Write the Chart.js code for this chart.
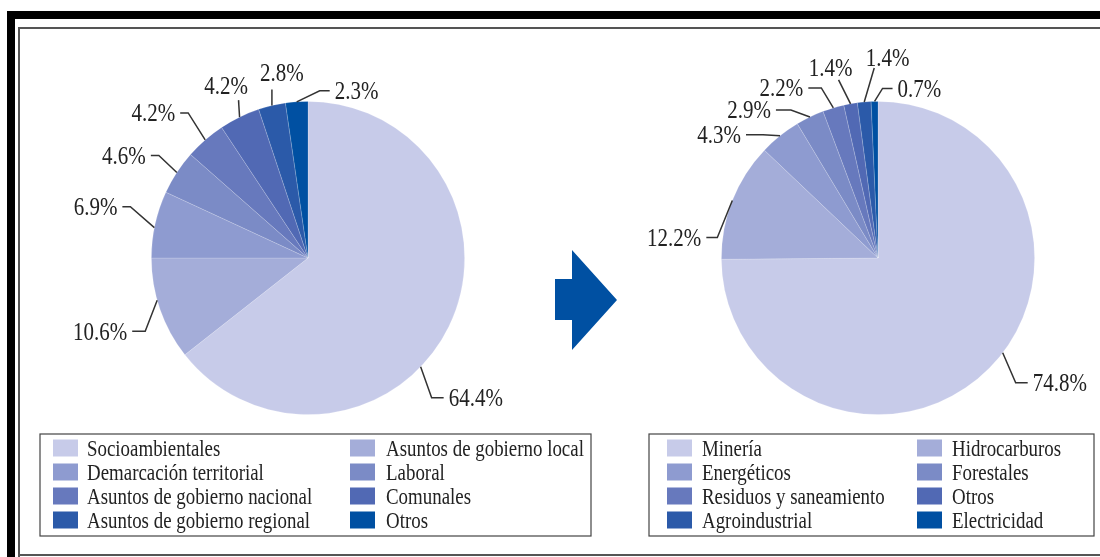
<!DOCTYPE html>
<html>
<head>
<meta charset="utf-8">
<title>Conflictos sociales por tipo</title>
<script src="https://cdn.jsdelivr.net/npm/chart.js@4/dist/chart.umd.min.js"></script>
<style>
  body { margin: 0; background: #fff; overflow: hidden; }
  #page { position: relative; width: 1100px; height: 557px; }
  canvas { position: absolute; left: 0; top: 0; }
  .bar { position: absolute; background: #000; }
  .rule { position: absolute; background: #555; }
  #arrow { position: absolute; left: 0; top: 0; }
</style>
</head>
<body>
<div id="page">
  <div class="bar" style="left:7px;top:11px;width:1093px;height:8px"></div>
  <div class="bar" style="left:7px;top:11px;width:8px;height:546px"></div>
  <div class="rule" style="left:18px;top:27px;width:1082px;height:1.5px"></div>
  <div class="rule" style="left:18px;top:27px;width:1.5px;height:530px"></div>
  <div class="rule" style="left:18px;top:554px;width:1082px;height:1.5px"></div>
  <svg id="arrow" width="1100" height="557">
    <polygon points="555,279 572,279 572,250 617,300 572,350 572,320 555,320" fill="#0050a2"/>
  </svg>
  <canvas id="leftPie" width="1100" height="557"></canvas>
  <canvas id="rightPie" width="1100" height="557"></canvas>
</div>
<script>
// conflict types (left) and socio-environmental breakdown (right), in %
const leftLabels = ["Socioambientales", "Asuntos de gobierno local", "Demarcación territorial", "Laboral",
  "Asuntos de gobierno nacional", "Comunales", "Asuntos de gobierno regional", "Otros"];
const leftValues = [64.4, 10.6, 6.9, 4.6, 4.2, 4.2, 2.8, 2.3];

const rightLabels = ["Minería", "Hidrocarburos", "Energéticos", "Forestales",
  "Residuos y saneamiento", "Otros", "Agroindustrial", "Electricidad"];
const rightValues = [74.8, 12.2, 4.3, 2.9, 2.2, 1.4, 1.4, 0.7];

const sliceColors = ["#c7cbe9", "#a4add9", "#8e9bd0", "#7b8bc6", "#6779bd", "#5169b4", "#2b5aa9", "#0050a2"];

const FONT = "Liberation Serif, Times New Roman, serif";
const SQUEEZE = 0.84; // condensed look for all text

function drawText(ctx, text, x, y, align, size) {
  ctx.save();
  ctx.font = size + "px " + FONT;
  ctx.textAlign = align;
  ctx.textBaseline = "alphabetic";
  ctx.translate(x, y);
  ctx.scale(SQUEEZE, 1);
  ctx.fillText(text, 0, 0);
  ctx.restore();
}

// percent labels with elbow leader lines
const leaderLabels = {
  id: "leaderLabels",
  afterDatasetsDraw(chart, args, opts) {
    const ctx = chart.ctx;
    const meta = chart.getDatasetMeta(0);
    const values = chart.data.datasets[0].data;
    ctx.save();
    ctx.strokeStyle = "#333";
    ctx.lineWidth = 1.5;
    ctx.fillStyle = "#222";
    meta.data.forEach((arc, i) => {
      const l = opts.layout[i];
      const p = arc.getProps(["x", "y", "startAngle", "endAngle", "outerRadius"], true);
      const a = p.startAngle + (l.f ?? 0.5) * (p.endAngle - p.startAngle);
      const sx = p.x + p.outerRadius * Math.cos(a);
      const sy = p.y + p.outerRadius * Math.sin(a);
      const exx = sx + l.ex, eyy = sy + l.ey;
      const text = values[i].toFixed(1) + "%";
      ctx.beginPath();
      ctx.moveTo(sx, sy);
      ctx.lineTo(exx, eyy);
      if (l.up === undefined) {
        const tx = exx + l.tail;
        ctx.lineTo(tx, eyy);
        ctx.stroke();
        const gap = l.tail > 0 ? 5 : -5;
        drawText(ctx, text, tx + gap, eyy + 8.5, l.tail > 0 ? "left" : "right", 25);
      } else {
        ctx.stroke();
        drawText(ctx, text, exx + l.dx, eyy + l.up, "center", 25);
      }
    });
    ctx.restore();
  }
};

// boxed two-column legend under each pie
const boxLegend = {
  id: "boxLegend",
  afterDraw(chart, args, opts) {
    const ctx = chart.ctx;
    const colors = chart.data.datasets[0].backgroundColor;
    ctx.save();
    ctx.strokeStyle = "#444";
    ctx.lineWidth = 1.2;
    ctx.strokeRect(opts.x, opts.y, opts.w, opts.h);
    chart.data.labels.forEach((label, i) => {
      const col = i % 2, row = Math.floor(i / 2);
      const cy = opts.rowY + row * opts.rowStep;
      ctx.fillStyle = colors[i];
      ctx.fillRect(opts.swatchX[col], cy - 8.5, 25, 17);
      ctx.fillStyle = "#222";
      drawText(ctx, label, opts.textX[col], cy + 8, "left", 22.5);
    });
    ctx.restore();
  }
};

function makePie(id, labels, values, area, layout, legend) {
  return new Chart(document.getElementById(id), {
    type: "pie",
    data: {
      labels: labels,
      datasets: [{
        data: values,
        backgroundColor: sliceColors,
        borderColor: "rgba(255,255,255,0.22)",
        borderWidth: 0.8
      }]
    },
    options: {
      responsive: false,
      animation: false,
      devicePixelRatio: 1,
      layout: { padding: area },
      plugins: {
        legend: { display: false },
        tooltip: { enabled: false },
        leaderLabels: { layout: layout },
        boxLegend: legend
      }
    },
    plugins: [leaderLabels, boxLegend]
  });
}

makePie("leftPie", leftLabels, leftValues,
  { left: 151, right: 635, top: 101, bottom: 142 },
  [
    { f: 0.578, ex: 11, ey: 31, tail: 12 },
    { f: 0.59, ex: -12, ey: 31, tail: -13 },
    { f: 0.45, ex: -24, ey: -21, tail: -8 },
    { ex: -18, ey: -17, tail: -8 },
    { ex: -17, ey: -27, tail: -8 },
    { ex: -1, ey: -17, dx: -12.5, up: -6 },
    { ex: 0, ey: -16, dx: 10, up: -9 },
    { ex: 23, ey: -11, tail: 10 }
  ],
  { x: 40, y: 434, w: 551, h: 102, rowY: 448, rowStep: 24, swatchX: [53, 350], textX: [87, 386] });

makePie("rightPie", rightLabels, rightValues,
  { left: 721, right: 65, top: 101, bottom: 142 },
  [
    { f: 0.472, ex: 13, ey: 30, tail: 12 },
    { ex: -15, ey: 37, tail: -11 },
    { ex: -17, ey: -1, tail: -17 },
    { ex: -19, ey: -7, tail: -15 },
    { ex: -12, ey: -20, tail: -13 },
    { ex: -12, ey: -24, dx: -8, up: -4 },
    { ex: 10, ey: -34, dx: 13.5, up: -2 },
    { ex: 8, ey: -13, tail: 10 }
  ],
  { x: 649, y: 434, w: 445, h: 102, rowY: 448, rowStep: 24, swatchX: [667, 917], textX: [702, 952] });
</script>
</body>
</html>
